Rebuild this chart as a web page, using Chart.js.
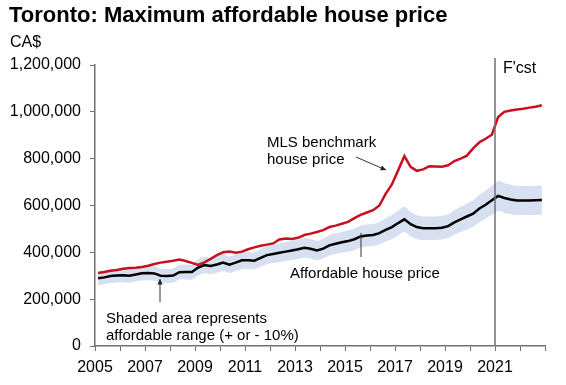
<!DOCTYPE html>
<html>
<head>
<meta charset="utf-8">
<script src="https://cdn.jsdelivr.net/npm/chart.js@4.4.0/dist/chart.umd.min.js"></script>
<style>
html,body{margin:0;padding:0;background:#fff;}
#wrap{width:566px;height:385px;position:relative;}
</style>
</head>
<body>
<div id="wrap"><canvas id="c" width="566" height="385"></canvas></div>
<script>
// Quarterly categories
const quarters = [
"2005Q1","2005Q2","2005Q3","2005Q4","2006Q1","2006Q2","2006Q3","2006Q4",
"2007Q1","2007Q2","2007Q3","2007Q4","2008Q1","2008Q2","2008Q3","2008Q4",
"2009Q1","2009Q2","2009Q3","2009Q4","2010Q1","2010Q2","2010Q3","2010Q4",
"2011Q1","2011Q2","2011Q3","2011Q4","2012Q1","2012Q2","2012Q3","2012Q4",
"2013Q1","2013Q2","2013Q3","2013Q4","2014Q1","2014Q2","2014Q3","2014Q4",
"2015Q1","2015Q2","2015Q3","2015Q4","2016Q1","2016Q2","2016Q3","2016Q4",
"2017Q1","2017Q2","2017Q3","2017Q4","2018Q1","2018Q2","2018Q3","2018Q4",
"2019Q1","2019Q2","2019Q3","2019Q4","2020Q1","2020Q2","2020Q3","2020Q4",
"2021Q1","2021Q2","2021Q3","2021Q4","2022Q1","2022Q2","2022Q3","2022Q4"
];
// MLS benchmark house price (thousand CA$)
const mlsBenchmark = [
312,316,321,325, 330,333,334,337,
343,350,356,360, 364,369,363,355,
346,357,372,388, 400,403,398,403,
413,421,428,433, 438,455,459,457,
462,474,480,487, 495,508,514,522,
530,546,560,570, 580,600,650,690,
750,811,765,748, 754,768,767,766,
772,790,800,813, 844,870,885,902,
978,1000,1006,1010, 1013,1018,1022,1028
];
// Affordable house price (thousand CA$)
const affordable = [
289,293,299,301, 302,300,305,311,
312,310,300,299, 301,315,316,316,
335,346,342,348, 356,347,356,366,
366,364,376,388, 393,398,403,408,
413,419,415,408, 416,430,437,443,
448,456,468,472, 474,482,496,508,
525,541,520,508, 503,503,503,505,
512,528,541,553, 565,587,603,622,
641,632,626,621, 621,621,622,623
];
// Affordable range upper edge (thousand CA$)
const rangeUpper = [
318,322,329,331, 332,330,336,342,
343,341,330,329, 331,347,348,348,
369,381,376,383, 392,382,392,403,
403,400,414,427, 432,438,443,449,
454,461,457,449, 458,473,481,487,
493,502,515,519, 521,530,546,559,
578,595,572,559, 553,553,553,556,
563,581,595,608, 622,646,663,684,
705,695,689,683, 683,683,684,685
];
// Affordable range lower edge (thousand CA$)
const rangeLower = [
260,264,269,271, 272,270,275,280,
281,279,270,269, 271,284,284,284,
302,311,308,313, 320,312,320,329,
329,328,338,349, 354,358,363,367,
372,377,374,367, 374,387,393,399,
403,410,421,425, 427,434,446,457,
473,487,468,457, 453,453,453,455,
461,475,487,498, 509,528,543,560,
577,569,563,559, 559,559,560,561
];
const yTicks = [0,200000,400000,600000,800000,1000000,1200000];
const xTickLabels = ["2005","2007","2009","2011","2013","2015","2017","2019","2021"];
const forecastStart = 2021;

function qx(q){ const y = parseInt(q.slice(0,4)); const n = parseInt(q.slice(5)); return y + (n - 0.5)/4; }
function toPts(arr){ return arr.map((v,i)=>({x:qx(quarters[i]), y:v*1000})); }

const FONT = "'Liberation Sans', Arial, sans-serif";

const annot = {
  id:'annot',
  afterDatasetsDraw(chart){
    const ctx = chart.ctx, xs = chart.scales.x, ca = chart.chartArea;
    const fx = xs.getPixelForValue(forecastStart);
    ctx.save();
    ctx.strokeStyle = '#707070'; ctx.lineWidth = 1.5;
    ctx.beginPath(); ctx.moveTo(fx, ca.top - 7); ctx.lineTo(fx, ca.bottom); ctx.stroke();
    ctx.fillStyle = '#000'; ctx.textBaseline = 'middle'; ctx.textAlign = 'left';
    ctx.font = '16px ' + FONT;
    ctx.fillText("F'cst", fx + 8, 69);
    ctx.font = '15px ' + FONT;
    ctx.fillText('MLS benchmark', 267, 143);
    ctx.fillText('house price', 267, 160);
    ctx.fillText('Affordable house price', 290, 274);
    ctx.fillText('Shaded area represents', 106, 319);
    ctx.fillText('affordable range (+ or - 10%)', 106, 336);
    // arrows
    function arrow(x1,y1,x2,y2,head){
      ctx.strokeStyle = '#333'; ctx.lineWidth = 1;
      ctx.beginPath(); ctx.moveTo(x1,y1); ctx.lineTo(x2,y2); ctx.stroke();
      if(head){
        const a = Math.atan2(y2-y1, x2-x1), L = 6, w = 0.45;
        ctx.fillStyle = '#222';
        ctx.beginPath(); ctx.moveTo(x2,y2);
        ctx.lineTo(x2 - L*Math.cos(a-w), y2 - L*Math.sin(a-w));
        ctx.lineTo(x2 - L*Math.cos(a+w), y2 - L*Math.sin(a+w));
        ctx.closePath(); ctx.fill();
      }
    }
    arrow(356,157,386,170,true);
    arrow(361,257,361,233,false);
    arrow(160,302,160,279,true);
    // title
    ctx.fillStyle = '#000';
    ctx.font = 'bold 22px ' + FONT;
    ctx.fillText('Toronto: Maximum affordable house price', 9, 16);
    ctx.font = '16px ' + FONT;
    ctx.fillText('CA$', 10, 43);
    ctx.restore();
  }
};

new Chart(document.getElementById('c'), {
  type:'line',
  data:{
    datasets:[
      {label:'upper', data:toPts(rangeUpper), borderWidth:0, pointRadius:0, fill:'+1',
       backgroundColor:'rgb(214,224,240)', borderColor:'rgba(0,0,0,0)', tension:0.35, order:5},
      {label:'lower', data:toPts(rangeLower), borderWidth:0, pointRadius:0, fill:false,
       borderColor:'rgba(0,0,0,0)', tension:0.35, order:4},
      {label:'Affordable', data:toPts(affordable), borderColor:'#000', borderWidth:2.5, pointRadius:0, fill:false, order:2},
      {label:'MLS', data:toPts(mlsBenchmark), borderColor:'rgb(200,16,32)', borderWidth:2.5, pointRadius:0, fill:false, order:1}
    ]
  },
  options:{
    responsive:false, animation:false, devicePixelRatio:1,
    layout:{padding:{left:0,right:21,top:65,bottom:0}},
    plugins:{legend:{display:false}, tooltip:{enabled:false}, title:{display:false}},
    scales:{
      x:{type:'linear', min:2005, max:2023,
        afterFit(s){ s.height = 39; },
        grid:{display:true, drawOnChartArea:false, drawTicks:true, tickLength:5, color:'#707070'},
        border:{display:true, color:'#707070', width:1.5},
        afterBuildTicks(s){ const t=[]; for(let y=2005;y<=2023;y++) t.push({value:y}); s.ticks=t; },
        ticks:{autoSkip:false, maxRotation:0, padding:7, color:'#000', font:{family:FONT,size:16},
          callback(v){ const s=String(v); return xTickLabels.includes(s) ? s : ''; }}
      },
      y:{min:0, max:1200000,
        afterFit(s){ s.width = 95; },
        afterBuildTicks(s){ s.ticks = yTicks.map(v=>({value:v})); },
        grid:{display:true, drawOnChartArea:false, drawTicks:true, tickLength:5, color:'#707070'},
        border:{display:true, color:'#707070', width:1.5},
        ticks:{padding:9, color:'#000', font:{family:FONT,size:16},
          callback(v){ return Number(v).toLocaleString('en-US'); }}
      }
    }
  },
  plugins:[annot]
});
</script>
</body>
</html>
